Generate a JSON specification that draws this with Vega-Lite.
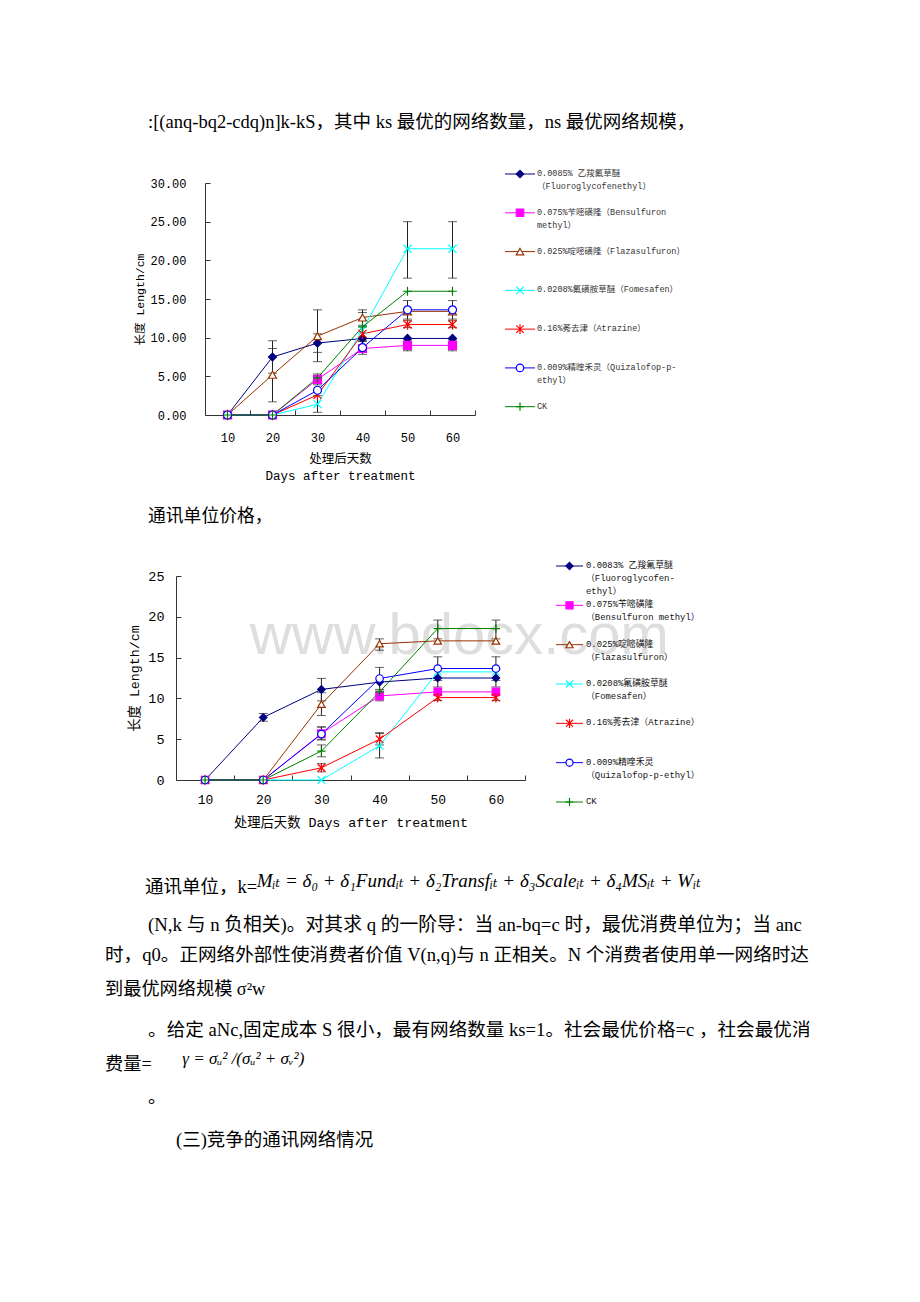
{
  "$schema": "https://vega.github.io/schema/vega-lite/v6.json",
  "background": "white",
  "padding": 0,
  "spacing": 0,
  "bounds": "flush",
  "config": {
    "view": {"stroke": null},
    "axis": {"grid": false, "domainColor": "#333333", "tickColor": "#333333", "labelColor": "#000000", "titleColor": "#000000", "titleFontWeight": "normal", "domainWidth": 1, "tickWidth": 1},
    "axisY": {"labelOverlap": false},
    "axisQuantitative": {"labelOverlap": false}
  },
  "datasets": {
    "c1": [
      {"s":"F","day":10,"v":0},{"s":"F","day":20,"v":7.5,"lo":5.4,"hi":9.6},{"s":"F","day":30,"v":9.3,"lo":8.1,"hi":10.5},{"s":"F","day":40,"v":9.9},{"s":"F","day":50,"v":9.9},{"s":"F","day":60,"v":9.9},
      {"s":"B","day":10,"v":0},{"s":"B","day":20,"v":0},{"s":"B","day":30,"v":4.6,"lo":3.9,"hi":5.3},{"s":"B","day":40,"v":8.6},{"s":"B","day":50,"v":9.0,"lo":8.3,"hi":9.7},{"s":"B","day":60,"v":9.0,"lo":8.3,"hi":9.7},
      {"s":"Fl","day":10,"v":0},{"s":"Fl","day":20,"v":5.2,"lo":1.7,"hi":8.6},{"s":"Fl","day":30,"v":10.2,"lo":6.9,"hi":13.6},{"s":"Fl","day":40,"v":12.6,"lo":11.6,"hi":13.6},{"s":"Fl","day":50,"v":13.4},{"s":"Fl","day":60,"v":13.4},
      {"s":"Fo","day":10,"v":0},{"s":"Fo","day":20,"v":0},{"s":"Fo","day":30,"v":1.4,"lo":0.35,"hi":2.5},{"s":"Fo","day":40,"v":11.0},{"s":"Fo","day":50,"v":21.5,"lo":17.7,"hi":25.0},{"s":"Fo","day":60,"v":21.5,"lo":17.7,"hi":25.0},
      {"s":"A","day":10,"v":0},{"s":"A","day":20,"v":0},{"s":"A","day":30,"v":2.6},{"s":"A","day":40,"v":10.5},{"s":"A","day":50,"v":11.7,"lo":11.3,"hi":12.2},{"s":"A","day":60,"v":11.7,"lo":11.3,"hi":12.2},
      {"s":"Q","day":10,"v":0},{"s":"Q","day":20,"v":0},{"s":"Q","day":30,"v":3.2},{"s":"Q","day":40,"v":8.7,"lo":7.85,"hi":9.5},{"s":"Q","day":50,"v":13.6,"lo":12.4,"hi":14.8},{"s":"Q","day":60,"v":13.6,"lo":12.4,"hi":14.8},
      {"s":"CK","day":10,"v":0},{"s":"CK","day":20,"v":0},{"s":"CK","day":30,"v":4.8},{"s":"CK","day":40,"v":11.4,"lo":9.6,"hi":13.25},{"s":"CK","day":50,"v":16.0},{"s":"CK","day":60,"v":16.0}
    ],
    "c2": [
      {"s":"F","day":10,"v":0},{"s":"F","day":20,"v":7.67,"lo":7.2,"hi":8.15},{"s":"F","day":30,"v":11.1,"lo":9.7,"hi":12.45},{"s":"F","day":40,"v":12.0},{"s":"F","day":50,"v":12.5,"lo":11.4,"hi":13.6},{"s":"F","day":60,"v":12.5,"lo":11.4,"hi":13.6},
      {"s":"B","day":10,"v":0},{"s":"B","day":20,"v":0},{"s":"B","day":30,"v":5.7,"lo":4.9,"hi":6.5},{"s":"B","day":40,"v":10.3,"lo":9.7,"hi":10.9},{"s":"B","day":50,"v":10.8},{"s":"B","day":60,"v":10.8},
      {"s":"Fl","day":10,"v":0},{"s":"Fl","day":20,"v":0},{"s":"Fl","day":30,"v":9.3,"lo":7.9,"hi":10.7},{"s":"Fl","day":40,"v":16.7,"lo":15.9,"hi":17.3},{"s":"Fl","day":50,"v":17.05},{"s":"Fl","day":60,"v":17.05},
      {"s":"Fo","day":10,"v":0},{"s":"Fo","day":20,"v":0},{"s":"Fo","day":30,"v":0},{"s":"Fo","day":40,"v":4.2,"lo":2.7,"hi":5.7},{"s":"Fo","day":50,"v":13.25},{"s":"Fo","day":60,"v":13.25},
      {"s":"A","day":10,"v":0},{"s":"A","day":20,"v":0},{"s":"A","day":30,"v":1.5,"lo":1.0,"hi":2.0},{"s":"A","day":40,"v":5.0,"lo":4.3,"hi":5.8},{"s":"A","day":50,"v":10.1,"lo":9.75,"hi":10.45},{"s":"A","day":60,"v":10.1,"lo":9.75,"hi":10.45},
      {"s":"Q","day":10,"v":0},{"s":"Q","day":20,"v":0},{"s":"Q","day":30,"v":5.63,"lo":5.0,"hi":6.5},{"s":"Q","day":40,"v":12.44,"lo":11.1,"hi":13.8},{"s":"Q","day":50,"v":13.66,"lo":12.2,"hi":15.1},{"s":"Q","day":60,"v":13.66,"lo":12.2,"hi":15.1},
      {"s":"CK","day":10,"v":0},{"s":"CK","day":20,"v":0},{"s":"CK","day":30,"v":3.55,"lo":2.85,"hi":4.3},{"s":"CK","day":40,"v":10.8},{"s":"CK","day":50,"v":18.56,"lo":17.3,"hi":19.6},{"s":"CK","day":60,"v":18.56,"lo":17.3,"hi":19.6}
    ],
    "leg1": [
      {"s":"F","label":"0.0085% 乙羧氟草醚\n（Fluoroglycofenethyl）"},
      {"s":"B","label":"0.075%苄嘧磺隆（Bensulfuron\nmethyl）"},
      {"s":"Fl","label":"0.025%啶嘧磺隆（Flazasulfuron）"},
      {"s":"Fo","label":"0.0208%氟磺胺草醚（Fomesafen）"},
      {"s":"A","label":"0.16%莠去津（Atrazine）"},
      {"s":"Q","label":"0.009%精喹禾灵（Quizalofop-p-\nethyl）"},
      {"s":"CK","label":"CK"}
    ],
    "leg2": [
      {"s":"F","label":"0.0083% 乙羧氟草醚\n（Fluoroglycofen-\nethyl）"},
      {"s":"B","label":"0.075%苄嘧磺隆\n（Bensulfuron methyl）"},
      {"s":"Fl","label":"0.025%啶嘧磺隆\n（Flazasulfuron）"},
      {"s":"Fo","label":"0.0208%氟磺胺草醚\n（Fomesafen）"},
      {"s":"A","label":"0.16%莠去津（Atrazine）"},
      {"s":"Q","label":"0.009%精喹禾灵\n（Quizalofop-p-ethyl）"},
      {"s":"CK","label":"CK"}
    ],
    "doc": [
      {"id":"t1","text":":[(anq-bq2-cdq)n]k-kS，其中 ks 最优的网络数量，ns 最优网络规模，"},
      {"id":"t2","text":"通讯单位价格，"},
      {"id":"t3a","text":"通讯单位，k="},
      {"id":"t3b","text":"Mᵢₜ = δ₀ + δ₁Fundᵢₜ + δ₂Transfᵢₜ + δ₃Scaleᵢₜ + δ₄MSᵢₜ + Wᵢₜ"},
      {"id":"t4","text":"(N,k 与 n 负相关)。对其求 q 的一阶导：当 an-bq=c 时，最优消费单位为；当 anc"},
      {"id":"t5","text":"时，q0。正网络外部性使消费者价值 V(n,q)与 n 正相关。N 个消费者使用单一网络时达"},
      {"id":"t6","text":"到最优网络规模 σ²w"},
      {"id":"t7","text":"。给定 aNc,固定成本 S 很小，最有网络数量 ks=1。社会最优价格=c ，社会最优消"},
      {"id":"t8a","text":"费量="},
      {"id":"t8b","text":"γ = σᵤ² /(σᵤ² + σᵥ²)"},
      {"id":"t9","text":"。"},
      {"id":"t10","text":"(三)竞争的通讯网络情况"}
    ]
  },
  "vconcat": [
    {"width": 920, "height": 61, "data": {"values": []}, "mark": "point", "encoding": {}},
    {"width": 920, "height": 122, "data": {"name": "doc"}, "transform": [{"filter": "datum.id === 't1'"}],
     "mark": {"type": "text", "align": "left", "baseline": "middle", "font": "Liberation Serif, Noto Sans CJK SC", "fontSize": 18.5, "color": "#000000"},
     "encoding": {"x": {"datum": 2.46, "type": "quantitative", "scale": {"domain": [0, 46.57], "range": [105, 920]}, "axis": null}, "text": {"field": "text"}}},
    {"width": 920, "height": 232,
     "resolve": {"scale": {"x": "independent", "y": "independent"}},
     "layer": [
       {"data": {"name": "c1"},
        "layer": [
          {"mark": {"type": "line", "strokeWidth": 1},
           "encoding": {
             "x": {"field": "day", "type": "quantitative", "scale": {"domain": [5, 65], "range": [205, 475], "nice": false, "zero": false},
                   "axis": {"values": [10,15,20,25,30,35,40,45,50,55,60,65], "format": "d", "labelExpr": "datum.value % 10 === 0 ? datum.label : ''",
                            "tickOpacity": {"condition": {"test": "datum.value % 10 === 0", "value": 0}, "value": 1},
                            "tickSize": -5, "labelPadding": 22, "labelOverlap": false, "labelFont": "Liberation Mono", "labelFontSize": 12,
                            "title": ["处理后天数", "Days after treatment"], "titleFont": "Liberation Mono, Noto Sans CJK SC", "titleFontSize": 12.5, "titleLineHeight": 17, "titlePadding": 9}},
             "y": {"field": "v", "type": "quantitative", "scale": {"domain": [0, 30], "nice": false},
                   "axis": {"values": [0,5,10,15,20,25,30], "tickCount": 7, "format": ".2f", "offset": -205, "tickSize": -5, "labelPadding": 24, "labelOverlap": false, "labelSeparation": 0, "labelFont": "Liberation Mono", "labelFontSize": 12,
                            "title": "长度 Length/cm", "titleFont": "Liberation Mono, Noto Sans CJK SC", "titleFontSize": 11.5, "titlePadding": 4}},
             "color": {"field": "s", "type": "nominal", "scale": {"domain": ["F","B","Fl","Fo","A","Q","CK"], "range": ["#000080","#FF00FF","#993300","#00FFFF","#FF0000","#0000FF","#008000"]}, "legend": null}
           }},
          {"transform": [{"filter": "isValid(datum.lo)"}], "mark": {"type": "rule", "color": "#222222", "strokeWidth": 1},
           "encoding": {"x": {"field": "day", "type": "quantitative"}, "y": {"field": "lo", "type": "quantitative"}, "y2": {"field": "hi"}}},
          {"transform": [{"filter": "isValid(datum.lo)"}], "mark": {"type": "tick", "orient": "horizontal", "size": 9, "thickness": 1, "color": "#222222"},
           "encoding": {"x": {"field": "day", "type": "quantitative"}, "y": {"field": "lo", "type": "quantitative"}}},
          {"transform": [{"filter": "isValid(datum.hi)"}], "mark": {"type": "tick", "orient": "horizontal", "size": 9, "thickness": 1, "color": "#222222"},
           "encoding": {"x": {"field": "day", "type": "quantitative"}, "y": {"field": "hi", "type": "quantitative"}}},
          {"mark": {"type": "point", "opacity": 1, "strokeWidth": 1.2, "size": 64},
           "encoding": {
             "x": {"field": "day", "type": "quantitative"},
             "y": {"field": "v", "type": "quantitative"},
             "shape": {"field": "s", "type": "nominal", "scale": {"domain": ["F","B","Fl","Fo","A","Q","CK"], "range": ["diamond","square","triangle-up","M-1,-1L1,1M-1,1L1,-1","M-1,-1L1,1M-1,1L1,-1M0,-1.3L0,1.3","circle","M-1.1,0L1.1,0M0,-1.1L0,1.1"]}, "legend": null},
             "stroke": {"field": "s", "type": "nominal", "scale": {"domain": ["F","B","Fl","Fo","A","Q","CK"], "range": ["#000080","#FF00FF","#993300","#00FFFF","#FF0000","#0000FF","#008000"]}, "legend": null},
             "fill": {"field": "s", "type": "nominal", "scale": {"domain": ["F","B","Fl","Fo","A","Q","CK"], "range": ["#000080","#FF00FF","#FFFFFF","transparent","transparent","#FFFFFF","transparent"]}, "legend": null}
           }}
        ]},
       {"data": {"name": "leg1"},
        "encoding": {"y": {"field": "s", "type": "nominal", "scale": {"type": "point", "domain": ["F","B","Fl","Fo","A","Q","CK"], "range": [-9, 223.7], "padding": 0}, "axis": null}},
        "layer": [
          {"mark": {"type": "rule", "strokeWidth": 1},
           "encoding": {"x": {"datum": 505, "type": "quantitative", "scale": {"domain": [0, 920], "range": [0, 920], "nice": false, "zero": false}, "axis": null}, "x2": {"datum": 535},
                        "color": {"field": "s", "type": "nominal", "scale": {"domain": ["F","B","Fl","Fo","A","Q","CK"], "range": ["#000080","#FF00FF","#993300","#00FFFF","#FF0000","#0000FF","#008000"]}, "legend": null}}},
          {"mark": {"type": "point", "opacity": 1, "strokeWidth": 1.2, "size": 56},
           "encoding": {"x": {"datum": 520, "type": "quantitative"},
             "shape": {"field": "s", "type": "nominal", "legend": null},
             "stroke": {"field": "s", "type": "nominal", "legend": null},
             "fill": {"field": "s", "type": "nominal", "legend": null}}},
          {"mark": {"type": "text", "align": "left", "baseline": "top", "dy": -5, "lineBreak": "\n", "lineHeight": 13, "font": "Liberation Mono, Noto Sans CJK SC", "fontSize": 8.5, "color": "#333333"},
           "encoding": {"x": {"datum": 537, "type": "quantitative"}, "text": {"field": "label"}}}
        ]}
     ]},
    {"width": 920, "height": 43, "data": {"values": []}, "mark": "point", "encoding": {}},
    {"width": 920, "height": 118, "data": {"name": "doc"}, "transform": [{"filter": "datum.id === 't2'"}],
     "mark": {"type": "text", "align": "left", "baseline": "middle", "font": "Liberation Serif, Noto Sans CJK SC", "fontSize": 17.8, "color": "#000000"},
     "encoding": {"x": {"datum": 2.46, "type": "quantitative", "scale": {"domain": [0, 46.57], "range": [105, 920]}, "axis": null}, "text": {"field": "text"}}},
    {"width": 920, "height": 204,
     "resolve": {"scale": {"x": "independent", "y": "independent"}},
     "layer": [
       {"data": {"name": "c2"},
        "layer": [
          {"data": {"values": [{"wm": "www.bdocx.com"}]},
           "mark": {"type": "text", "font": "Liberation Sans", "fontSize": 58, "color": "#dedede", "align": "left", "baseline": "alphabetic"},
           "encoding": {"x": {"datum": 17.7, "type": "quantitative"}, "y": {"datum": 15.44, "type": "quantitative"}, "text": {"field": "wm"}}},
          {"mark": {"type": "line", "strokeWidth": 1},
           "encoding": {
             "x": {"field": "day", "type": "quantitative", "scale": {"domain": [5, 65], "range": [176, 525], "nice": false, "zero": false},
                   "axis": {"values": [10,15,20,25,30,35,40,45,50,55,60,65], "format": "d", "labelExpr": "datum.value % 10 === 0 ? datum.label : ''",
                            "tickOpacity": {"condition": {"test": "datum.value % 10 === 0", "value": 0}, "value": 1},
                            "tickSize": -5, "labelPadding": 18, "labelOverlap": false, "labelFont": "Liberation Mono", "labelFontSize": 13,
                            "title": "处理后天数 Days after treatment", "titleFont": "Liberation Mono, Noto Sans CJK SC", "titleFontSize": 13.3, "titlePadding": 9}},
             "y": {"field": "v", "type": "quantitative", "scale": {"domain": [0, 25], "nice": false},
                   "axis": {"values": [0,5,10,15,20,25], "format": "d", "offset": -176, "tickSize": -5, "labelPadding": 17, "labelOverlap": false, "labelFont": "Liberation Mono", "labelFontSize": 13.5,
                            "title": "长度 Length/cm", "titleFont": "Liberation Mono, Noto Sans CJK SC", "titleFontSize": 13.3, "titlePadding": 6}},
             "color": {"field": "s", "type": "nominal", "scale": {"domain": ["F","B","Fl","Fo","A","Q","CK"], "range": ["#26268c","#FF00FF","#993300","#00FFFF","#FF0000","#0000FF","#008080"]}, "legend": null}
           }},
          {"transform": [{"filter": "isValid(datum.lo)"}], "mark": {"type": "rule", "color": "#222222", "strokeWidth": 1},
           "encoding": {"x": {"field": "day", "type": "quantitative"}, "y": {"field": "lo", "type": "quantitative"}, "y2": {"field": "hi"}}},
          {"transform": [{"filter": "isValid(datum.lo)"}], "mark": {"type": "tick", "orient": "horizontal", "size": 9, "thickness": 1, "color": "#222222"},
           "encoding": {"x": {"field": "day", "type": "quantitative"}, "y": {"field": "lo", "type": "quantitative"}}},
          {"transform": [{"filter": "isValid(datum.hi)"}], "mark": {"type": "tick", "orient": "horizontal", "size": 9, "thickness": 1, "color": "#222222"},
           "encoding": {"x": {"field": "day", "type": "quantitative"}, "y": {"field": "hi", "type": "quantitative"}}},
          {"mark": {"type": "point", "opacity": 1, "strokeWidth": 1.2, "size": 56},
           "encoding": {
             "x": {"field": "day", "type": "quantitative"},
             "y": {"field": "v", "type": "quantitative"},
             "shape": {"field": "s", "type": "nominal", "scale": {"domain": ["F","B","Fl","Fo","A","Q","CK"], "range": ["diamond","square","triangle-up","M-1,-1L1,1M-1,1L1,-1","M-1,-1L1,1M-1,1L1,-1M0,-1.3L0,1.3","circle","M-1.1,0L1.1,0M0,-1.1L0,1.1"]}, "legend": null},
             "stroke": {"field": "s", "type": "nominal", "scale": {"domain": ["F","B","Fl","Fo","A","Q","CK"], "range": ["#000080","#FF00FF","#993300","#00FFFF","#FF0000","#0000FF","#008080"]}, "legend": null},
             "fill": {"field": "s", "type": "nominal", "scale": {"domain": ["F","B","Fl","Fo","A","Q","CK"], "range": ["#000080","#FF00FF","#FFFFFF","transparent","transparent","#FFFFFF","transparent"]}, "legend": null}
           }}
        ]},
       {"data": {"name": "leg2"},
        "encoding": {"y": {"field": "s", "type": "nominal", "scale": {"type": "point", "domain": ["F","B","Fl","Fo","A","Q","CK"], "range": [-10, 226], "padding": 0}, "axis": null}},
        "layer": [
          {"mark": {"type": "rule", "strokeWidth": 1},
           "encoding": {"x": {"datum": 556, "type": "quantitative", "scale": {"domain": [0, 920], "range": [0, 920], "nice": false, "zero": false}, "axis": null}, "x2": {"datum": 583},
                        "color": {"field": "s", "type": "nominal", "legend": null}}},
          {"mark": {"type": "point", "opacity": 1, "strokeWidth": 1.2, "size": 50},
           "encoding": {"x": {"datum": 569.5, "type": "quantitative"},
             "shape": {"field": "s", "type": "nominal", "legend": null},
             "stroke": {"field": "s", "type": "nominal", "legend": null},
             "fill": {"field": "s", "type": "nominal", "legend": null}}},
          {"mark": {"type": "text", "align": "left", "baseline": "top", "dy": -5, "lineBreak": "\n", "lineHeight": 13, "font": "Liberation Mono, Noto Sans CJK SC", "fontSize": 8.9, "color": "#111111"},
           "encoding": {"x": {"datum": 586, "type": "quantitative"}, "text": {"field": "label"}}}
        ]}
     ]},
    {"width": 920, "height": 87, "data": {"values": []}, "mark": "point", "encoding": {}},
    {"width": 920, "height": 40, "data": {"name": "doc"},
     "layer": [
       {"transform": [{"filter": "datum.id === 't3a'"}],
        "mark": {"type": "text", "align": "left", "baseline": "middle", "font": "Liberation Serif, Noto Sans CJK SC", "fontSize": 18.5, "color": "#000000"},
        "encoding": {"x": {"datum": 2.46, "type": "quantitative", "scale": {"domain": [0, 46.57], "range": [105, 920]}, "axis": null}, "text": {"field": "text"}}},
       {"transform": [{"filter": "datum.id === 't3b'"}],
        "mark": {"type": "text", "align": "left", "baseline": "middle", "dy": -6, "font": "Liberation Serif, DejaVu Serif", "fontStyle": "italic", "fontSize": 19, "color": "#000000"},
        "encoding": {"x": {"datum": 9.31, "type": "quantitative"}, "text": {"field": "text"}}}
     ]},
    {"width": 920, "height": 36, "data": {"name": "doc"}, "transform": [{"filter": "datum.id === 't4'"}],
     "mark": {"type": "text", "align": "left", "baseline": "middle", "font": "Liberation Serif, Noto Sans CJK SC", "fontSize": 18.8, "color": "#000000"},
     "encoding": {"x": {"datum": 2.46, "type": "quantitative", "scale": {"domain": [0, 46.57], "range": [105, 920]}, "axis": null}, "text": {"field": "text"}}},
    {"width": 920, "height": 24, "data": {"name": "doc"}, "transform": [{"filter": "datum.id === 't5'"}],
     "mark": {"type": "text", "align": "left", "baseline": "middle", "font": "Liberation Serif, Noto Sans CJK SC", "fontSize": 18.6, "color": "#000000"},
     "encoding": {"x": {"datum": 0, "type": "quantitative", "scale": {"domain": [0, 46.57], "range": [105, 920]}, "axis": null}, "text": {"field": "text"}}},
    {"width": 920, "height": 46, "data": {"name": "doc"}, "transform": [{"filter": "datum.id === 't6'"}],
     "mark": {"type": "text", "align": "left", "baseline": "middle", "font": "Liberation Serif, Noto Sans CJK SC", "fontSize": 18.2, "color": "#000000"},
     "encoding": {"x": {"datum": 0, "type": "quantitative", "scale": {"domain": [0, 46.57], "range": [105, 920]}, "axis": null}, "text": {"field": "text"}}},
    {"width": 920, "height": 34, "data": {"name": "doc"}, "transform": [{"filter": "datum.id === 't7'"}],
     "mark": {"type": "text", "align": "left", "baseline": "middle", "font": "Liberation Serif, Noto Sans CJK SC", "fontSize": 18.6, "color": "#000000"},
     "encoding": {"x": {"datum": 2.46, "type": "quantitative", "scale": {"domain": [0, 46.57], "range": [105, 920]}, "axis": null}, "text": {"field": "text"}}},
    {"width": 920, "height": 36, "data": {"name": "doc"},
     "layer": [
       {"transform": [{"filter": "datum.id === 't8a'"}],
        "mark": {"type": "text", "align": "left", "baseline": "middle", "font": "Liberation Serif, Noto Sans CJK SC", "fontSize": 18.2, "color": "#000000"},
        "encoding": {"x": {"datum": 0, "type": "quantitative", "scale": {"domain": [0, 46.57], "range": [105, 920]}, "axis": null}, "text": {"field": "text"}}},
       {"transform": [{"filter": "datum.id === 't8b'"}],
        "mark": {"type": "text", "align": "left", "baseline": "middle", "dy": -6, "font": "Liberation Serif, DejaVu Serif", "fontStyle": "italic", "fontSize": 17, "color": "#000000"},
        "encoding": {"x": {"datum": 4.74, "type": "quantitative"}, "text": {"field": "text"}}}
     ]},
    {"width": 920, "height": 30, "data": {"name": "doc"}, "transform": [{"filter": "datum.id === 't9'"}],
     "mark": {"type": "text", "align": "left", "baseline": "middle", "font": "Liberation Serif, Noto Sans CJK SC", "fontSize": 18.2, "color": "#000000"},
     "encoding": {"x": {"datum": 2.46, "type": "quantitative", "scale": {"domain": [0, 46.57], "range": [105, 920]}, "axis": null}, "text": {"field": "text"}}},
    {"width": 920, "height": 54, "data": {"name": "doc"}, "transform": [{"filter": "datum.id === 't10'"}],
     "mark": {"type": "text", "align": "left", "baseline": "middle", "font": "Liberation Serif, Noto Sans CJK SC", "fontSize": 18.5, "color": "#000000"},
     "encoding": {"x": {"datum": 4.06, "type": "quantitative", "scale": {"domain": [0, 46.57], "range": [105, 920]}, "axis": null}, "text": {"field": "text"}}}
  ]
}
